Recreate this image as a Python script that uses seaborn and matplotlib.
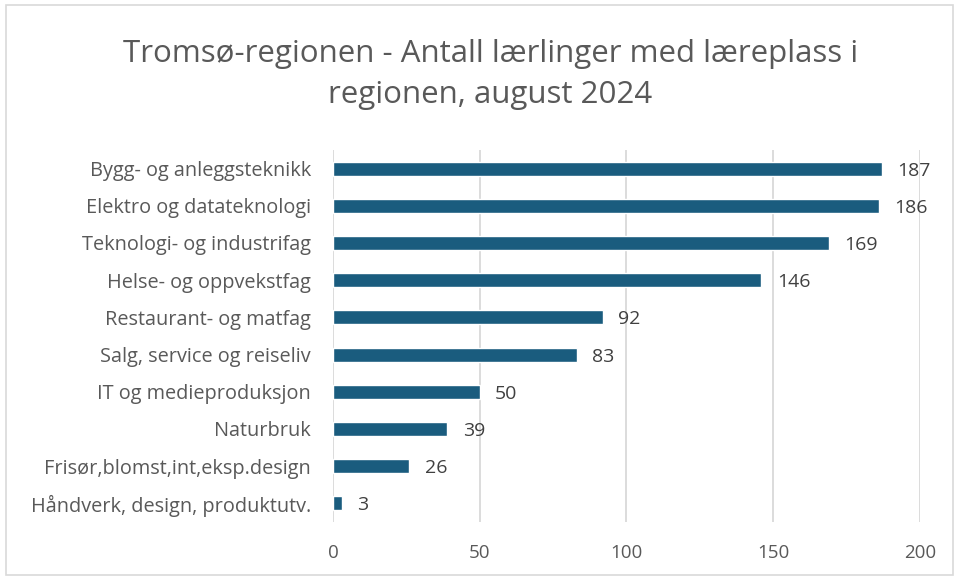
import matplotlib
matplotlib.use("Agg")
import matplotlib.pyplot as plt
import seaborn as sns
import pandas as pd
from matplotlib.patches import Rectangle

categories = [
    "Bygg- og anleggsteknikk",
    "Elektro og datateknologi",
    "Teknologi- og industrifag",
    "Helse- og oppvekstfag",
    "Restaurant- og matfag",
    "Salg, service og reiseliv",
    "IT og medieproduksjon",
    "Naturbruk",
    "Frisør,blomst,int,eksp.design",
    "Håndverk, design, produktutv.",
]
values = [187, 186, 169, 146, 92, 83, 50, 39, 26, 3]
xticks = [0, 50, 100, 150, 200]
title = "Tromsø-regionen - Antall lærlinger med læreplass i\nregionen, august 2024"

df = pd.DataFrame({"kategori": categories, "antall": values})

sns.set_theme(style="white")
plt.rcParams["font.family"] = ["Open Sans", "DejaVu Sans"]

fig = plt.figure(figsize=(9.58, 5.78), dpi=100)
ax = fig.add_axes([0.3476, 0.0969, 0.6127, 0.6436])

bar_color = "#1a5c7e"
text_color = "#595959"

sns.barplot(data=df, x="antall", y="kategori", orient="h", color=bar_color,
            width=0.38, saturation=1, ax=ax, zorder=3)

ax.set_xlim(0, 200)
ax.set_ylim(9.5, -0.5)
ax.set_xticks(xticks)
ax.set_xticklabels([str(t) for t in xticks], fontsize=13.5, color=text_color)
ax.tick_params(axis="y", labelsize=14.3, colors=text_color, length=0, pad=16)
ax.tick_params(axis="x", length=0, pad=16)
for lab in ax.get_yticklabels():
    lab.set_color(text_color)
ax.set_xlabel("")
ax.set_ylabel("")
for s in ax.spines.values():
    s.set_visible(False)
ax.xaxis.grid(True, color="#d9d9d9", linewidth=1.3, zorder=0)
ax.yaxis.grid(False)
ax.set_axisbelow(True)

for i, v in enumerate(values):
    ax.annotate(str(v), xy=(v, i), xytext=(11, -1.5), textcoords="offset points",
                va="center", ha="left", fontsize=14, color="#404040")

fig.text(0.512, 0.871, title, ha="center", va="center", fontsize=22.5,
         color=text_color, linespacing=1.5)

fig.patches.append(Rectangle((0.006, 0.005), 0.989, 0.987, transform=fig.transFigure,
                             fill=False, edgecolor="#d9d9d9", linewidth=1.2))

fig.savefig("out.png", dpi=100)
